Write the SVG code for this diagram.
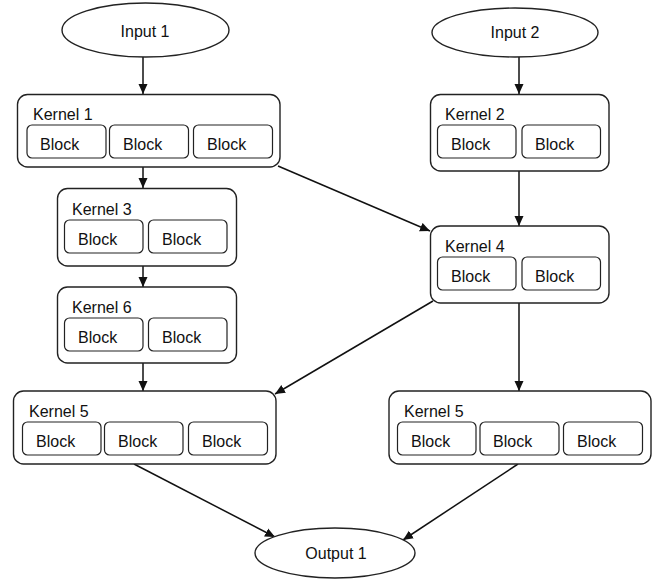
<svg xmlns="http://www.w3.org/2000/svg" width="656" height="581" viewBox="0 0 656 581">
<style>
.k{fill:#fff;stroke:#222;stroke-width:1.4}
.b{fill:#fff;stroke:#222;stroke-width:1.2}
.t{font-family:"Liberation Sans",Arial,sans-serif;font-size:16px;fill:#111}
.c{text-anchor:middle}
.e{stroke:#111;stroke-width:1.5;fill:none;marker-end:url(#ah)}
</style>
<defs>
<marker id="ah" markerUnits="userSpaceOnUse" markerWidth="11" markerHeight="10" refX="10" refY="5" orient="auto">
<path d="M0,0.5 L10,5 L0,9.5 z" fill="#111"/>
</marker>
</defs>
<rect width="656" height="581" fill="#fff"/>
<g id="connectors">
<line class="e" x1="143" y1="57" x2="143" y2="94"/>
<line class="e" x1="143" y1="167" x2="143" y2="188"/>
<line class="e" x1="143" y1="266" x2="143" y2="287"/>
<line class="e" x1="143" y1="363" x2="143" y2="391"/>
<line class="e" x1="519" y1="57" x2="519" y2="94"/>
<line class="e" x1="519" y1="171" x2="519" y2="226"/>
<line class="e" x1="278" y1="166" x2="430" y2="231"/>
<line class="e" x1="433" y1="301" x2="275" y2="394"/>
<line class="e" x1="519" y1="303" x2="519" y2="391"/>
<line class="e" x1="134" y1="464" x2="275" y2="537"/>
<line class="e" x1="518" y1="464" x2="403" y2="540"/>
</g>
<g id="input1">
<ellipse class="k" cx="145.5" cy="30" rx="83.5" ry="27"/>
<text class="t c" x="145" y="37">Input 1</text>
</g>
<g id="input2">
<ellipse class="k" cx="515" cy="32.5" rx="83" ry="24.5"/>
<text class="t c" x="515" y="38">Input 2</text>
</g>
<g id="output1">
<ellipse class="k" cx="335" cy="553" rx="80" ry="25"/>
<text class="t c" x="336" y="559">Output 1</text>
</g>
<g id="kernel1">
<rect class="k" x="17.5" y="94.5" width="262.5" height="72.5" rx="10"/>
<text class="t" x="33" y="120">Kernel 1</text>
<rect class="b" x="27" y="125" width="79" height="33" rx="5"/>
<text class="t" x="40" y="150">Block</text>
<rect class="b" x="109.5" y="125" width="79" height="33" rx="5"/>
<text class="t" x="123" y="150">Block</text>
<rect class="b" x="193.5" y="125" width="79" height="33" rx="5"/>
<text class="t" x="207" y="150">Block</text>
</g>
<g id="kernel2">
<rect class="k" x="430.5" y="94.5" width="178.5" height="76.5" rx="10"/>
<text class="t" x="445" y="120">Kernel 2</text>
<rect class="b" x="437.5" y="125" width="78.5" height="33" rx="5"/>
<text class="t" x="451" y="150">Block</text>
<rect class="b" x="522" y="125" width="78.5" height="33" rx="5"/>
<text class="t" x="535" y="150">Block</text>
</g>
<g id="kernel3">
<rect class="k" x="57.5" y="188.5" width="179" height="77.5" rx="10"/>
<text class="t" x="72" y="215">Kernel 3</text>
<rect class="b" x="64.5" y="220" width="78.5" height="33" rx="5"/>
<text class="t" x="78" y="245">Block</text>
<rect class="b" x="148.5" y="220" width="78.5" height="33" rx="5"/>
<text class="t" x="162" y="245">Block</text>
</g>
<g id="kernel4">
<rect class="k" x="430.5" y="226" width="178.5" height="77" rx="10"/>
<text class="t" x="445" y="252">Kernel 4</text>
<rect class="b" x="437.5" y="257" width="78.5" height="33" rx="5"/>
<text class="t" x="451" y="282">Block</text>
<rect class="b" x="522" y="257" width="78.5" height="33" rx="5"/>
<text class="t" x="535" y="282">Block</text>
</g>
<g id="kernel6">
<rect class="k" x="57.5" y="287" width="179" height="76" rx="10"/>
<text class="t" x="72" y="313">Kernel 6</text>
<rect class="b" x="64.5" y="318" width="78.5" height="33" rx="5"/>
<text class="t" x="78" y="343">Block</text>
<rect class="b" x="148.5" y="318" width="78.5" height="33" rx="5"/>
<text class="t" x="162" y="343">Block</text>
</g>
<g id="kernel5a">
<rect class="k" x="13.5" y="391" width="262.5" height="73" rx="10"/>
<text class="t" x="29" y="417">Kernel 5</text>
<rect class="b" x="22.5" y="422" width="78.5" height="33" rx="5"/>
<text class="t" x="36" y="447">Block</text>
<rect class="b" x="104.5" y="422" width="78.5" height="33" rx="5"/>
<text class="t" x="118" y="447">Block</text>
<rect class="b" x="188.5" y="422" width="79" height="33" rx="5"/>
<text class="t" x="202" y="447">Block</text>
</g>
<g id="kernel5b">
<rect class="k" x="389" y="391" width="262" height="73" rx="10"/>
<text class="t" x="404" y="417">Kernel 5</text>
<rect class="b" x="397.5" y="422" width="78.5" height="33" rx="5"/>
<text class="t" x="411" y="447">Block</text>
<rect class="b" x="480" y="422" width="79" height="33" rx="5"/>
<text class="t" x="493" y="447">Block</text>
<rect class="b" x="563.5" y="422" width="79" height="33" rx="5"/>
<text class="t" x="577" y="447">Block</text>
</g>
</svg>
